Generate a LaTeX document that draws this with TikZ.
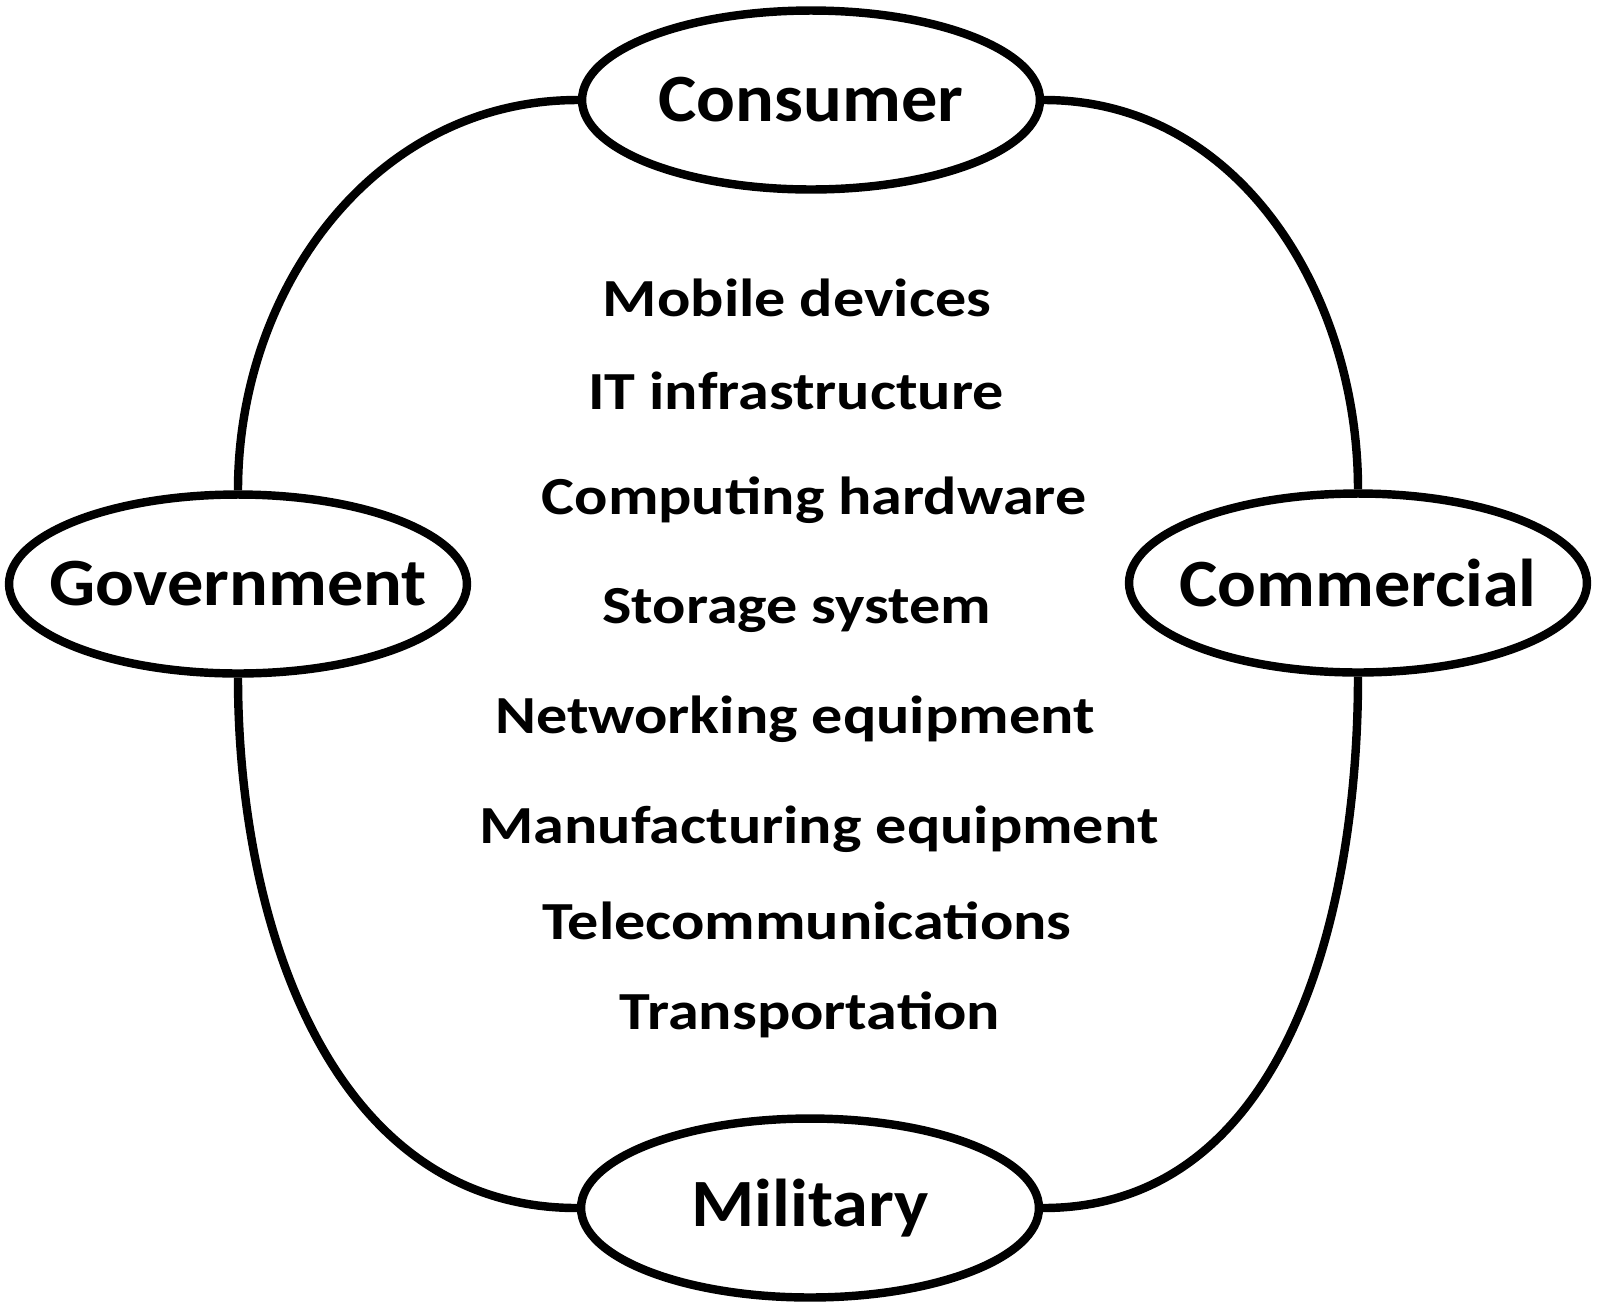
\documentclass[tikz,border=0pt]{standalone}
\usepackage{fontspec}
\setmainfont{Carlito}
\newfontfamily\labelfont[FakeStretch=1.07]{Carlito}
\newfontfamily\listfont[FakeStretch=1.16]{Carlito}
\usetikzlibrary{shapes.geometric}

\begin{document}
\begin{tikzpicture}[x=0.02cm, y=-0.02cm,
      sector/.style={ellipse, draw=black, line width=4.8pt, fill=white,
                     minimum width=9.16cm, minimum height=3.58cm,
                     inner xsep=-1.8cm, inner ysep=0pt,
                     font=\labelfont\fontsize{38.5}{40}\selectfont\bfseries},
      item/.style={inner sep=0pt, font=\listfont\fontsize{30.5}{32}\selectfont\bfseries}]
    \useasboundingbox (0,0) rectangle (1600,1313);
    % the four sectors
    \node[sector] (con) at (811,100)  {Consumer};
    \node[sector] (gov) at (238,584)  {Government};
    \node[sector] (com) at (1358,583) {Commercial};
    \node[sector] (mil) at (810,1208) {Military};
    % ring joining them
    \draw[line width=4.8pt] (con.west) to[out=180,in=90] (gov.north);
    \draw[line width=4.8pt] (con.east) to[out=0,in=90] (com.north);
    \draw[line width=4.8pt] (gov.south) to[out=-90,in=180] (mil.west);
    \draw[line width=4.8pt] (com.south) to[out=-90,in=0] (mil.east);
    % application areas
    \node[item] (mob)   at (797,298)  {Mobile devices};
    \node[item] (itinf) at (796,391)  {IT infrastructure};
    \node[item] (comp)  at (814,500)  {Computing hardware};
    \node[item] (stor)  at (797,610)  {Storage system};
    \node[item] (netw)  at (795,719)  {Networking equipment};
    \node[item] (manu)  at (819,829)  {Manufacturing equipment};
    \node[item] (tele)  at (807,921)  {Telecommunications};
    \node[item] (trans) at (810,1015) {Transportation};
  \end{tikzpicture}
\end{document}
